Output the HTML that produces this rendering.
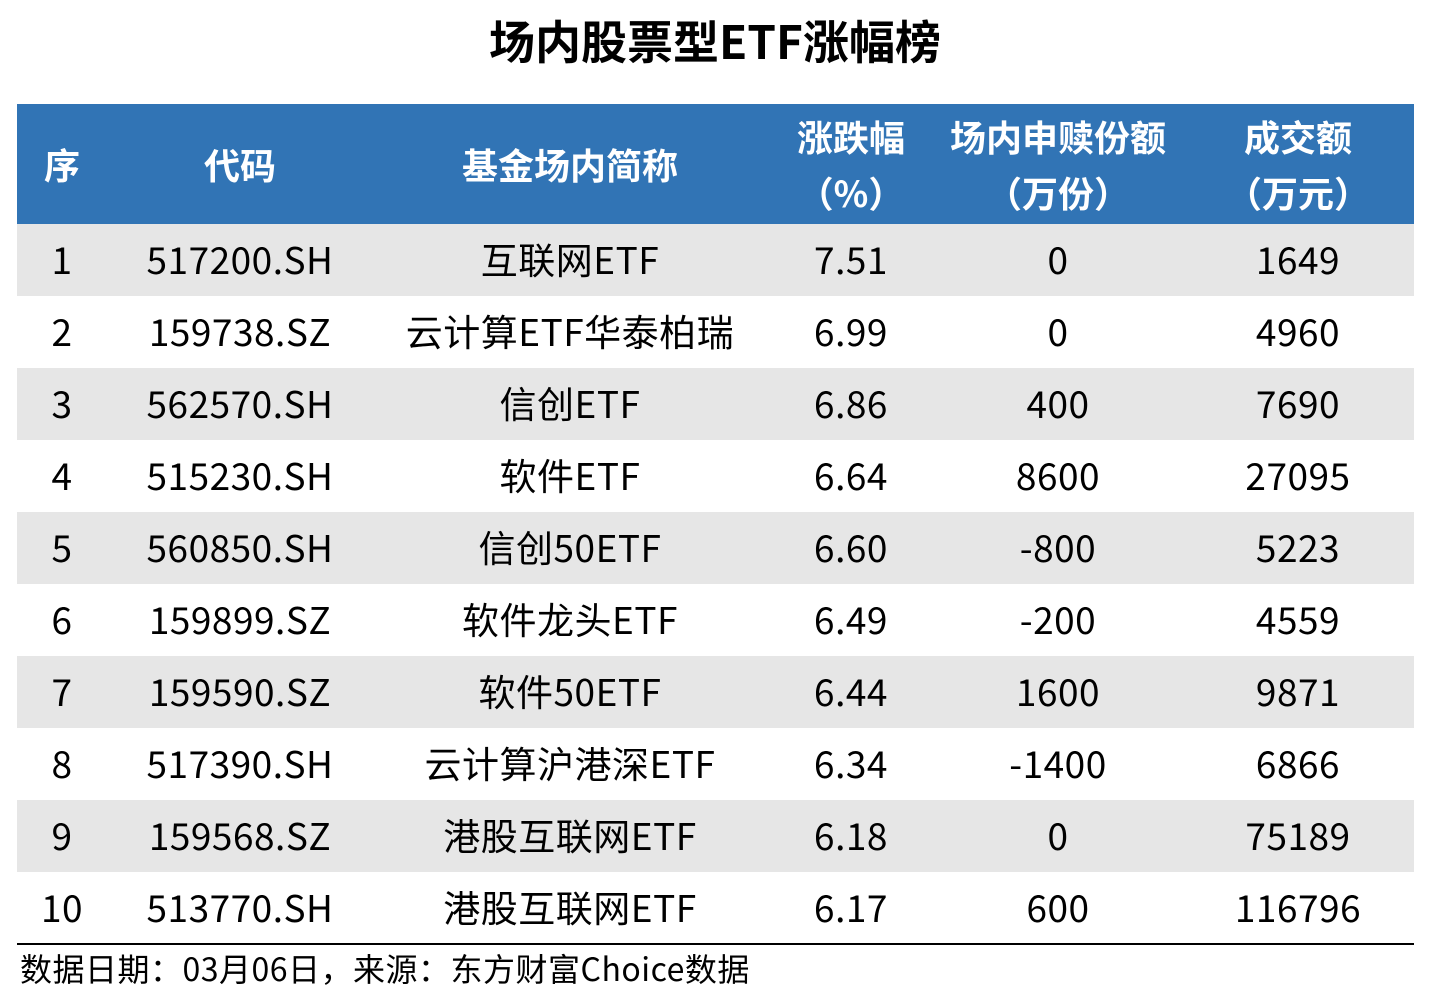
<!DOCTYPE html>
<html><head><meta charset="utf-8"><style>
body{margin:0;width:1430px;height:1000px;background:#fff;position:relative;overflow:hidden;font-family:"Liberation Sans","Noto Sans CJK SC",sans-serif;}
.t{position:absolute;left:0;width:1430px;top:10px;text-align:center;font-size:46px;font-weight:bold;line-height:60px;color:#000;font-family:"Noto Sans CJK SC",sans-serif;}
.hd{position:absolute;left:17px;top:104px;width:1397px;height:120px;background:#3174b5;}
.row{position:absolute;left:17px;width:1397px;height:72px;}
.g{background:#e6e6e6;}
.c{position:absolute;transform:translateX(-50%);white-space:nowrap;text-align:center;}
.h .c{color:#fff;font-weight:bold;font-size:36px;line-height:56px;font-family:"Noto Sans CJK SC",sans-serif;}
.row .c{font-size:37px;line-height:72px;top:-2px;color:#000;font-family:"Noto Sans CJK SC",sans-serif;letter-spacing:0.5px;}
.line{position:absolute;left:17px;top:943px;width:1397px;height:2px;background:#000;}
.f{position:absolute;left:20px;top:946px;font-size:32px;line-height:44px;font-family:"Noto Sans CJK SC",sans-serif;letter-spacing:0.5px;}
</style></head><body>
<div class="t">场内股票型ETF涨幅榜</div>
<div class="hd h">
<div class="c" style="left:45px;top:32px">序</div>
<div class="c" style="left:223px;top:32px">代码</div>
<div class="c" style="left:553px;top:32px">基金场内简称</div>
<div class="c" style="left:834px;top:4px">涨跌幅<br>（%）</div>
<div class="c" style="left:1041px;top:4px">场内申赎份额<br>（万份）</div>
<div class="c" style="left:1281px;top:4px">成交额<br>（万元）</div>
</div>
<div id="rows"></div>
<div class="line"></div>
<div class="f">数据日期：03月06日，来源：东方财富Choice数据</div>
<script>
var d=[["1","517200.SH","互联网ETF","7.51","0","1649"],["2","159738.SZ","云计算ETF华泰柏瑞","6.99","0","4960"],["3","562570.SH","信创ETF","6.86","400","7690"],["4","515230.SH","软件ETF","6.64","8600","27095"],["5","560850.SH","信创50ETF","6.60","-800","5223"],["6","159899.SZ","软件龙头ETF","6.49","-200","4559"],["7","159590.SZ","软件50ETF","6.44","1600","9871"],["8","517390.SH","云计算沪港深ETF","6.34","-1400","6866"],["9","159568.SZ","港股互联网ETF","6.18","0","75189"],["10","513770.SH","港股互联网ETF","6.17","600","116796"]];
var x=[45,223,553,834,1041,1281],h="";
d.forEach(function(r,i){h+='<div class="row'+(i%2==0?' g':'')+'" style="top:'+(224+i*72)+'px">';r.forEach(function(v,j){h+='<div class="c" style="left:'+x[j]+'px">'+v+'</div>';});h+='</div>';});
document.getElementById("rows").innerHTML=h;
</script>
</body></html>
